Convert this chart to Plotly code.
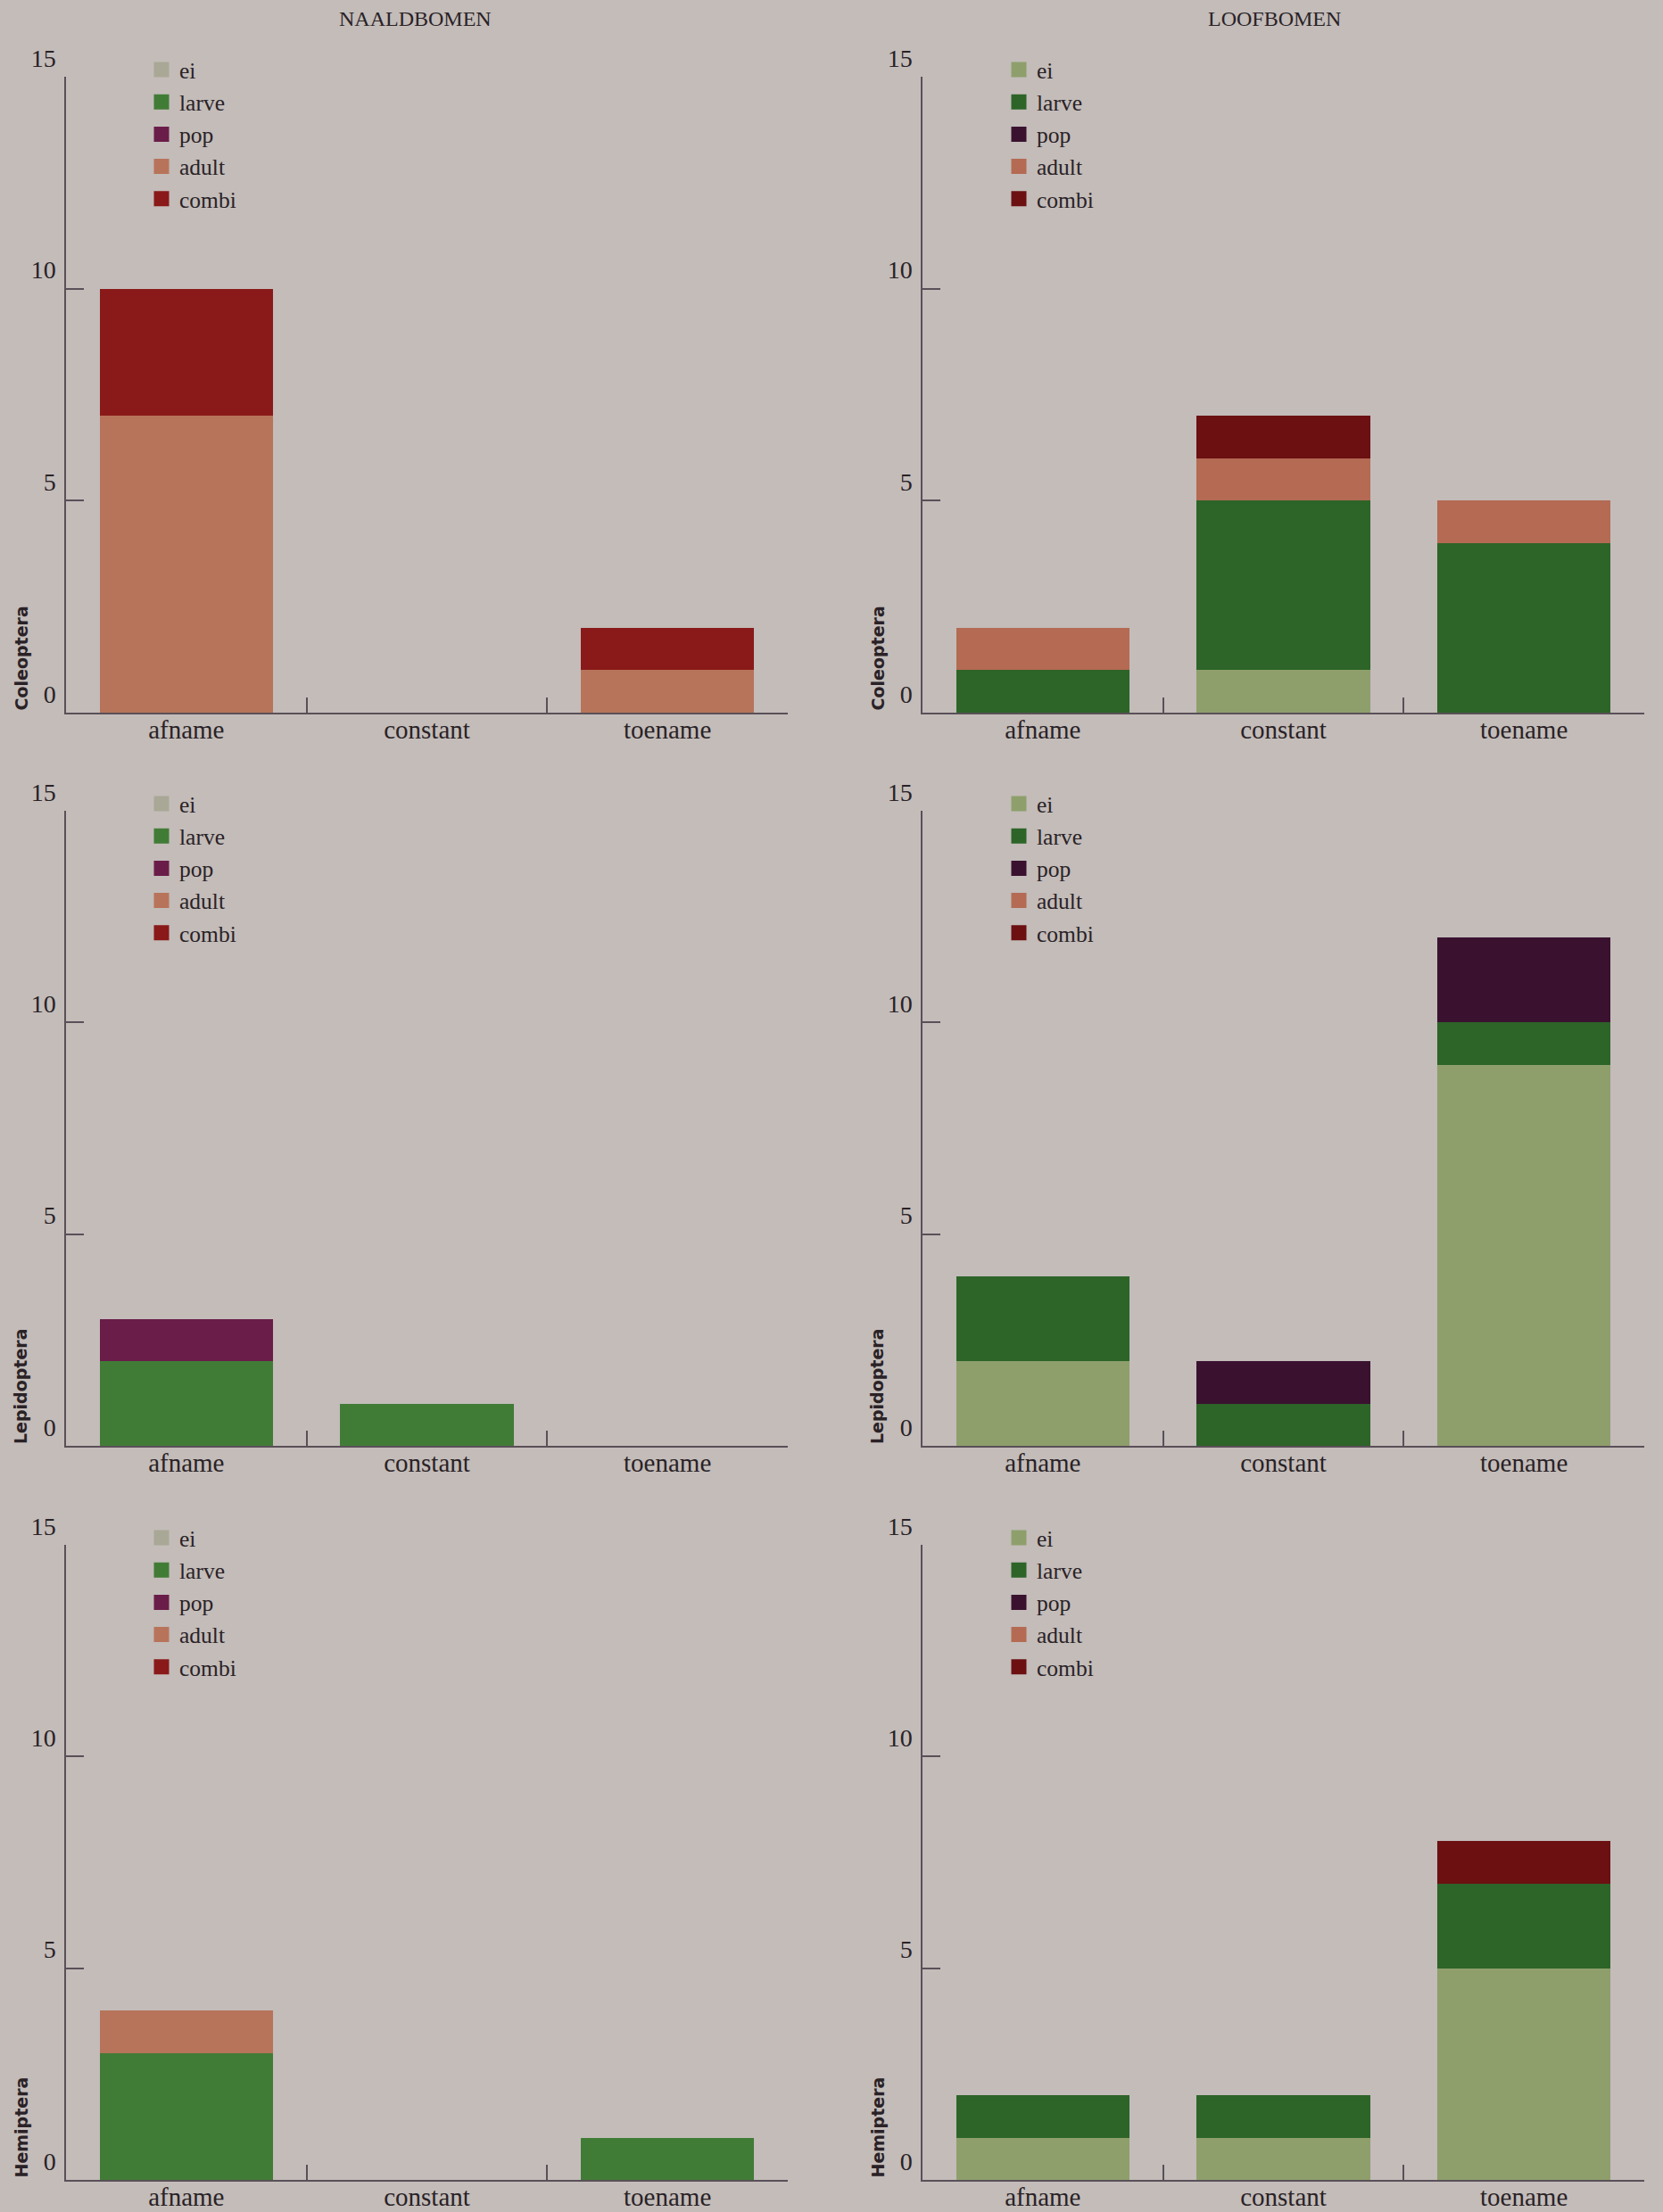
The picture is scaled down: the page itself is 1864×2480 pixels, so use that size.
import plotly.graph_objects as go

W, H = 1864, 2480

categories = ["afname", "constant", "toename"]
stages = ["ei", "larve", "pop", "adult", "combi"]
orders = ["Coleoptera", "Lepidoptera", "Hemiptera"]
groups = ["NAALDBOMEN", "LOOFBOMEN"]
y_ticks = [0, 5, 10, 15]

# values per stage, in order of categories
naald_coleoptera = {"ei": [0, 0, 0], "larve": [0, 0, 0], "pop": [0, 0, 0], "adult": [7, 0, 1], "combi": [3, 0, 1]}
loof_coleoptera = {"ei": [0, 1, 0], "larve": [1, 4, 4], "pop": [0, 0, 0], "adult": [1, 1, 1], "combi": [0, 1, 0]}
naald_lepidoptera = {"ei": [0, 0, 0], "larve": [2, 1, 0], "pop": [1, 0, 0], "adult": [0, 0, 0], "combi": [0, 0, 0]}
loof_lepidoptera = {"ei": [2, 0, 9], "larve": [2, 1, 1], "pop": [0, 1, 2], "adult": [0, 0, 0], "combi": [0, 0, 0]}
naald_hemiptera = {"ei": [0, 0, 0], "larve": [3, 0, 1], "pop": [0, 0, 0], "adult": [1, 0, 0], "combi": [0, 0, 0]}
loof_hemiptera = {"ei": [1, 1, 5], "larve": [1, 1, 2], "pop": [0, 0, 0], "adult": [0, 0, 0], "combi": [0, 0, 1]}

panels = [
    [naald_coleoptera, loof_coleoptera],
    [naald_lepidoptera, loof_lepidoptera],
    [naald_hemiptera, loof_hemiptera],
]

naald_colors = {"ei": "#a9a896", "larve": "#417c37", "pop": "#6a1d49", "adult": "#b7745a", "combi": "#8a1a1a"}
loof_colors = {"ei": "#8e9f6c", "larve": "#2d6428", "pop": "#3a1230", "adult": "#b46a53", "combi": "#6c1012"}
col_colors = [naald_colors, loof_colors]

BG = "#c3bcb9"
INK = "#2a2226"
AX = "#5a5058"
SERIF = "Liberation Serif"

# layout geometry (pixels)
col_x = [(74, 883), (1034, 1843)]
row_y = [(86, 799), (909, 1621), (1732, 2444)]  # top (15) and baseline (0)
title_x = [465, 1428]
legend_left = [161, 1122]

fig = go.Figure()
layout = dict(
    width=W, height=H, margin=dict(l=0, r=0, t=0, b=0, autoexpand=False),
    paper_bgcolor=BG, plot_bgcolor=BG, barmode="stack", bargap=0.28,
    showlegend=True, annotations=[],
)

k = 0
for r in range(3):
    for c in range(2):
        k += 1
        ax_sfx = "" if k == 1 else str(k)
        leg = "legend" if k == 1 else f"legend{k}"
        data = panels[r][c]
        for s in stages:
            fig.add_trace(go.Bar(
                x=categories, y=data[s], name=s,
                marker=dict(color=col_colors[c][s], line=dict(width=0)),
                xaxis="x" + ax_sfx, yaxis="y" + ax_sfx,
                showlegend=False, legendgroup=f"{k}-{s}",
            ))
            # legend entry (no marks drawn) with a larger swatch
            fig.add_trace(go.Bar(
                x=[None], y=[None], name=s,
                marker=dict(color=col_colors[c][s], line=dict(width=5, color=col_colors[c][s])),
                xaxis="x" + ax_sfx, yaxis="y" + ax_sfx, legend=leg,
                showlegend=True, legendgroup=f"{k}-{s}", hoverinfo="skip",
            ))
        x0, x1 = col_x[c]
        yt, yb = row_y[r]
        layout["xaxis" + ax_sfx] = dict(
            domain=[x0 / W, x1 / W], anchor="y" + ax_sfx, type="category",
            categoryorder="array", categoryarray=categories,
            range=[-0.5, 2.5], showline=True, linecolor=AX, linewidth=1.5,
            ticks="inside", tickson="boundaries", ticklen=17, tickcolor=AX, tickwidth=1.5,
            showgrid=False, zeroline=False, automargin=False, ticklabelstandoff=-8,
            tickfont=dict(family=SERIF, size=29, color=INK),
        )
        layout["yaxis" + ax_sfx] = dict(
            domain=[1 - yb / H, 1 - yt / H], anchor="x" + ax_sfx,
            range=[0, 15], tickvals=y_ticks, showline=True, linecolor=AX, linewidth=1.5,
            ticks="inside", ticklen=20, tickcolor=AX, tickwidth=1.5,
            showgrid=False, zeroline=False, automargin=False,
            ticklabelshift=-21, ticklabelstandoff=4,
            tickfont=dict(family=SERIF, size=28, color=INK),
        )
        layout[leg] = dict(
            x=legend_left[c] / W, y=1 - (yt - 31) / H, xanchor="left", yanchor="top",
            bgcolor="rgba(0,0,0,0)", traceorder="normal",
            font=dict(family=SERIF, size=25.5, color=INK), tracegroupgap=0,
        )
        layout["annotations"].append(dict(
            text=orders[r], textangle=-90, xref="paper", yref="paper",
            x=(23 if c == 0 else 983) / W, y=1 - yb / H, xanchor="center", yanchor="bottom",
            showarrow=False, font=dict(family="DejaVu Sans", size=19, color=INK, weight="bold"),
        ))

for c in range(2):
    layout["annotations"].append(dict(
        text=groups[c], xref="paper", yref="paper", x=title_x[c] / W, y=1 - 21 / H,
        xanchor="center", yanchor="middle", showarrow=False,
        font=dict(family=SERIF, size=24, color=INK),
    ))

fig.update_layout(**layout)
fig.write_html("out.html")
